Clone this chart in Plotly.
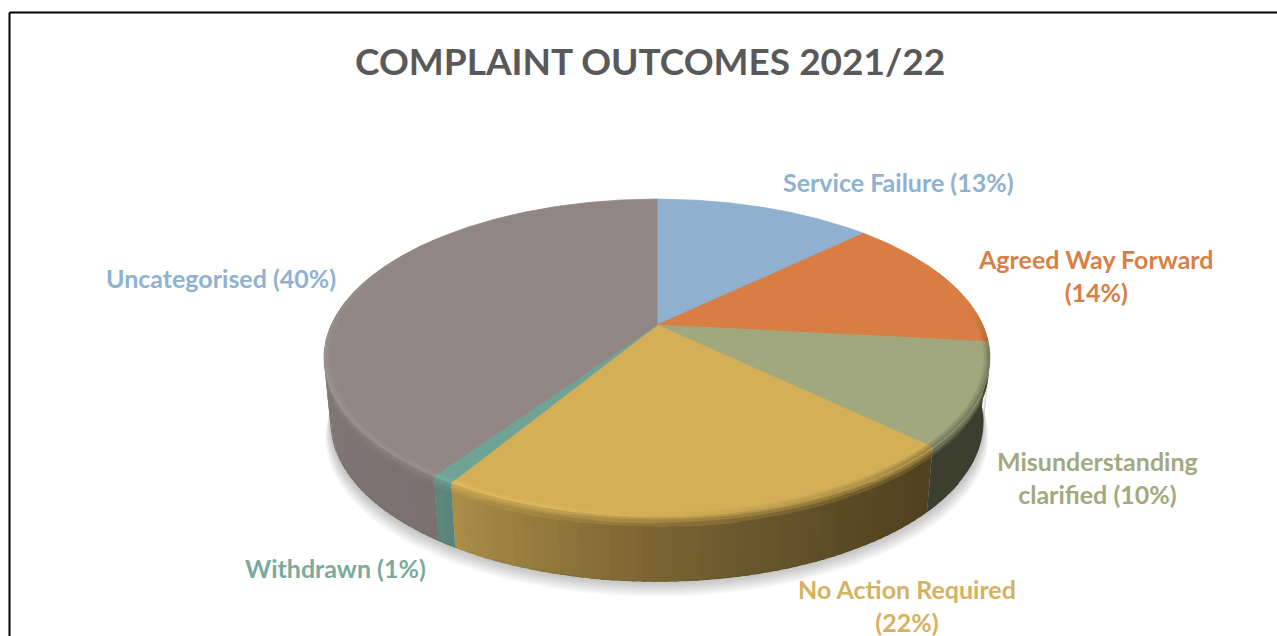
import math
import plotly.graph_objects as go

TITLE = "COMPLAINT OUTCOMES 2021/22"
CATEGORIES = ["Service Failure", "Agreed Way Forward", "Misunderstanding clarified",
              "No Action Required", "Withdrawn", "Uncategorised"]
SHARES = [12.9, 13.8, 10.4, 21.6, 0.9, 40.4]
LABELS = ["Service Failure (13%)", "Agreed Way Forward<br>(14%)", "Misunderstanding<br>clarified (10%)",
          "No Action Required<br>(22%)", "Withdrawn (1%)", "Uncategorised (40%)"]

FACE_COLORS = [(143, 176, 207), (216, 125, 68), (162, 168, 126), (212, 175, 87), (111, 163, 150), (145, 134, 132)]
LABEL_COLORS = ["#8FB1D2", "#D97F45", "#A3A97F", "#D6B160", "#7BAA9E", "#8FB1D2"]
LABEL_XY = [(898, 182), (1096, 275), (1097, 477), (907, 605), (335, 568), (221, 278)]

# projection of the tilted disc
CX, CY, A, B, K = 657, 325, 325.8, 152, 0.2075
DEPTH, BASE_SX, BASE_SY = 65, 0.98, 1.0
# wall shading against clockwise angle from the top of the disc
SHADE = [(0, .40), (90, .36), (133, .37), (150, .42), (165, .49), (180, .57), (200, .72), (215, .84), (270, .90), (360, .90)]


def project(deg, r=1.0, t=0.0):
    a = math.radians(deg)
    x, y = r * math.sin(a), r * math.cos(a)
    w = 1 + K * y
    px, py = A * x / w, -B * y / w
    sx = 1 + (BASE_SX - 1) * t
    sy = 1 + (BASE_SY - 1) * t
    return CX + px * sx, CY + DEPTH * t + py * sy


def shade(deg):
    deg %= 360
    for (a0, v0), (a1, v1) in zip(SHADE, SHADE[1:]):
        if a0 <= deg <= a1:
            return v0 + (v1 - v0) * (deg - a0) / (a1 - a0)
    return 1.0


def tint(rgb, m):
    return "#%02x%02x%02x" % tuple(max(0, min(255, round(c * m))) for c in rgb)


def poly(points, color, name=None, line=True):
    xs = [p[0] for p in points] + [points[0][0]]
    ys = [p[1] for p in points] + [points[0][1]]
    return go.Scatter(x=xs, y=ys, mode="lines", fill="toself", fillcolor=color,
                      line=dict(color=color if line else "rgba(0,0,0,0)", width=0.8),
                      hoverinfo="skip", showlegend=False, name=name)


def add_groups(fig, groups):
    for col, quads in groups.items():
        xs, ys = [], []
        for q in quads:
            xs += [p[0] for p in q] + [q[0][0], None]
            ys += [p[1] for p in q] + [q[0][1], None]
        fig.add_trace(go.Scatter(x=xs, y=ys, mode="lines", fill="toself", fillcolor=col,
                                 line=dict(width=0), hoverinfo="skip", showlegend=False))


bounds = [0]
for v in SHARES:
    bounds.append(bounds[-1] + v / sum(SHARES) * 360)

fig = go.Figure()

# soft shadow below the base
for i in range(1, 11):
    ring = []
    for d in range(0, 360, 3):
        x, y = project(d, 1.0, 1.0)
        ring.append((CX + (x - CX) * (1 + .0016 * i), y + 1.5 * i))
    fig.add_trace(poly(ring, "rgba(0,0,0,0.024)", line=False))

STEP = 1.5
OVERLAP = 0.5
BANDS = [(0, .04, .3), (.04, .09, .55), (.09, .15, .8), (.15, .98, 1), (.98, 1, 1.08)]
VISIBLE = (66, 294)
groups = {}
for i, (c, lo, hi) in enumerate(zip(FACE_COLORS, bounds, bounds[1:])):
    d0 = max(lo, VISIBLE[0])
    d1 = min(hi, VISIBLE[1])
    d = d0
    while d < d1:
        e = min(d + STEP, d1)
        m = shade((d + e) / 2)
        ex = min(e + OVERLAP, d1)
        for t0, t1, mix in BANDS:
            mm = m / mix if mix > 1 else 1 + (m - 1) * mix
            tb = min(t1 + .012, 1)
            q = [project(d, 1, t0), project(ex, 1, t0), project(ex, 1, tb), project(d, 1, tb)]
            groups.setdefault(tint(c, mm), []).append(q)
        d = e
add_groups(fig, groups)

# disc top
for name, c, lo, hi in zip(CATEGORIES, FACE_COLORS, bounds, bounds[1:]):
    pts = [(CX, CY)]
    n = max(2, int((hi - lo) * 2))
    pts += [project(lo + (hi - lo) * j / n) for j in range(n + 1)]
    fig.add_trace(poly(pts, tint(c, 1.0), name=name))

# bevel along the near rim: brighter on the lit left, darker on the right, fading out to the back
RIM = [(.982, .988), (.988, .994), (.994, 1.0)]
EDGE = [(85, 1.0), (100, .72), (135, .72), (165, .92), (195, 1.05), (250, 1.09), (290, 1.05), (310, 1.0)]


def edge_at(deg):
    for (a0, v0), (a1, v1) in zip(EDGE, EDGE[1:]):
        if a0 <= deg <= a1:
            return v0 + (v1 - v0) * (deg - a0) / (a1 - a0)
    return 1.0


groups = {}
for c, lo, hi in zip(FACE_COLORS, bounds, bounds[1:]):
    d = max(lo, 85)
    d1 = min(hi, 310)
    while d < d1:
        e = min(d + 2, d1)
        ex = min(e + OVERLAP, d1)
        edge = edge_at((d + e) / 2)
        for k, (r0, r1) in enumerate(RIM):
            m = 1 + (edge - 1) * (k + 1) / len(RIM)
            q = [project(d, r0), project(ex, r0), project(ex, r1), project(d, r1)]
            groups.setdefault(tint(c, m), []).append(q)
        d = e
add_groups(fig, groups)

annotations = [dict(x=649.5, y=60, text="<b>%s</b>" % TITLE, showarrow=False, xref="x", yref="y",
                    font=dict(family="Lato", size=37, color="#595959"))]
for text, col, (x, y) in zip(LABELS, LABEL_COLORS, LABEL_XY):
    annotations.append(dict(x=x, y=y, text="<b>%s</b>" % text, showarrow=False, xref="x", yref="y",
                            align="center", font=dict(family="Lato", size=25, color=col)))

fig.update_layout(
    width=1277, height=636, margin=dict(l=0, r=0, t=0, b=0),
    paper_bgcolor="white", plot_bgcolor="white", showlegend=False,
    xaxis=dict(range=[0, 1277], visible=False, fixedrange=True),
    yaxis=dict(range=[636, 0], visible=False, fixedrange=True),
    annotations=annotations,
    shapes=[dict(type="line", xref="x", yref="y", x0=9.5, y0=12.5, x1=1277, y1=12.5, line=dict(color="black", width=2)),
            dict(type="line", xref="x", yref="y", x0=9.5, y0=12.5, x1=9.5, y1=636, line=dict(color="black", width=2))],
)
fig.write_html("out.html", config=dict(displayModeBar=False),
               post_script="document.body.style.margin='0';document.body.style.overflow='hidden';")
